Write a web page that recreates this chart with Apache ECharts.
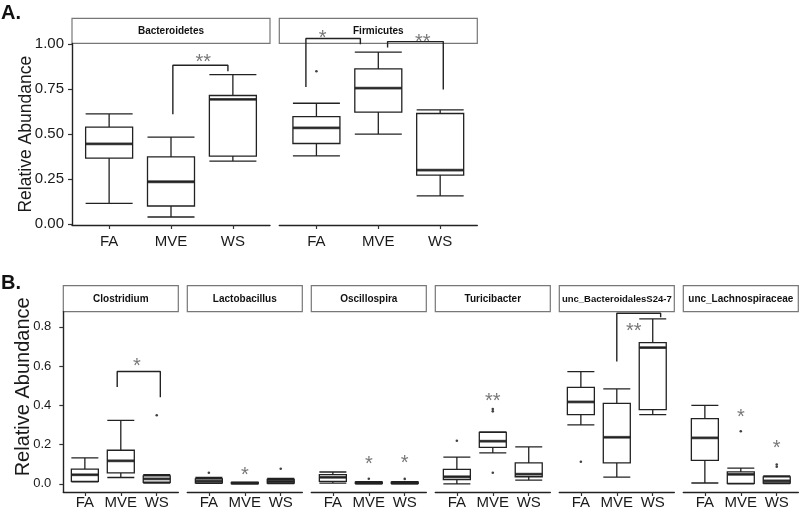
<!DOCTYPE html>
<html><head><meta charset="utf-8">
<script src="https://cdn.jsdelivr.net/npm/echarts@6/dist/echarts.min.js"></script>
<style>html,body{margin:0;padding:0;background:#fff}#c{width:800px;height:513px}</style>
</head><body><div id="c"></div>
<script>
// ---------- DATA ----------
const groups = ['FA', 'MVE', 'WS'];
const yTicksA = [0, 0.25, 0.5, 0.75, 1.0];
const yTicksB = [0, 0.2, 0.4, 0.6, 0.8];

// box stats: [min, Q1, median, Q3, max] for FA, MVE, WS
const taxaA = ['Bacteroidetes', 'Firmicutes'];
const boxBacteroidetes = [[0.115, 0.367, 0.446, 0.539, 0.613], [0.039, 0.100, 0.235, 0.374, 0.483], [0.350, 0.378, 0.693, 0.715, 0.831]];
const outBacteroidetes = [];
const boxFirmicutes = [[0.379, 0.448, 0.535, 0.598, 0.672], [0.500, 0.622, 0.756, 0.863, 0.956], [0.157, 0.272, 0.300, 0.615, 0.635]];
const outFirmicutes = [[1, 0.85]];

const taxaB = ['Clostridium', 'Lactobacillus', 'Oscillospira', 'Turicibacter', 'unc_BacteroidalesS24-7', 'unc_Lachnospiraceae'];
const boxClostridium = [[0.010, 0.012, 0.046, 0.075, 0.132], [0.032, 0.056, 0.117, 0.171, 0.323], [0.003, 0.008, 0.025, 0.040, 0.046]];
const outClostridium = [[3, 0.349]];
const boxLactobacillus = [[0.002, 0.005, 0.014, 0.025, 0.032], [0.000, 0.001, 0.003, 0.007, 0.009], [0.001, 0.004, 0.012, 0.022, 0.028]];
const outLactobacillus = [[1, 0.056], [3, 0.077]];
const boxOscillospira = [[0.003, 0.012, 0.033, 0.047, 0.060], [0.000, 0.002, 0.004, 0.008, 0.011], [0.000, 0.002, 0.004, 0.008, 0.011]];
const outOscillospira = [[2, 0.026], [3, 0.025]];
const boxTuricibacter = [[0.000, 0.022, 0.036, 0.073, 0.136], [0.158, 0.186, 0.217, 0.262, 0.265], [0.019, 0.036, 0.049, 0.107, 0.188]];
const outTuricibacter = [[1, 0.219], [2, 0.381], [2, 0.369], [2, 0.056]];
const boxUncBacteroidales = [[0.300, 0.352, 0.417, 0.491, 0.571], [0.034, 0.107, 0.237, 0.410, 0.484], [0.352, 0.378, 0.694, 0.719, 0.840]];
const outUncBacteroidales = [[1, 0.112]];
const boxUncLachno = [[0.004, 0.119, 0.234, 0.332, 0.400], [0.000, 0.002, 0.048, 0.061, 0.080], [0.001, 0.004, 0.015, 0.035, 0.040]];
const outUncLachno = [[2, 0.268], [3, 0.098], [3, 0.087]];

// significance brackets (x in group units, y in abundance) and star labels
const bracketsBacteroidetes = [[[2.03, 0.611], [2.03, 0.883], [2.92, 0.883], [2.92, 0.85]]];
const starsBacteroidetes = [[2.52, 0.933, '**']];
const bracketsFirmicutes = [[[0.83, 0.763], [0.83, 1.032], [1.71, 1.032], [1.71, 1.0]], [[2.15, 0.982], [2.15, 1.015], [3.05, 1.015], [3.05, 0.748]]];
const starsFirmicutes = [[1.1, 1.067, '*'], [2.72, 1.046, '**']];
const bracketsClostridium = [[[1.9, 0.493], [1.9, 0.572], [3.1, 0.572], [3.1, 0.441]]];
const starsClostridium = [[2.45, 0.628, '*']];
const starsLactobacillus = [[2, 0.073, '*']];
const starsOscillospira = [[2, 0.127, '*'], [3, 0.135, '*']];
const starsTuricibacter = [[2, 0.45, '**']];
const bracketsUncBacteroidales = [[[2.0, 0.623], [2.0, 0.869], [3.22, 0.869], [3.22, 0.848]]];
const starsUncBacteroidales = [[2.47, 0.809, '**']];
const starsUncLachno = [[2, 0.369, '*'], [3, 0.209, '*']];

// ---------- LAYOUT ----------
const FONT = 'Liberation Sans, Arial, sans-serif';
const panels = [
  { row: 'A', name: taxaA[0], boxes: boxBacteroidetes, outs: outBacteroidetes, brackets: bracketsBacteroidetes, stars: starsBacteroidetes, left: 72, width: 198 },
  { row: 'A', name: taxaA[1], boxes: boxFirmicutes, outs: outFirmicutes, brackets: bracketsFirmicutes, stars: starsFirmicutes, left: 279.3, width: 198 },
  { row: 'B', name: taxaB[0], boxes: boxClostridium, outs: outClostridium, brackets: bracketsClostridium, stars: starsClostridium },
  { row: 'B', name: taxaB[1], boxes: boxLactobacillus, outs: outLactobacillus, brackets: [], stars: starsLactobacillus },
  { row: 'B', name: taxaB[2], boxes: boxOscillospira, outs: outOscillospira, brackets: [], stars: starsOscillospira },
  { row: 'B', name: taxaB[3], boxes: boxTuricibacter, outs: outTuricibacter, brackets: [], stars: starsTuricibacter },
  { row: 'B', name: taxaB[4], boxes: boxUncBacteroidales, outs: outUncBacteroidales, brackets: bracketsUncBacteroidales, stars: starsUncBacteroidales },
  { row: 'B', name: taxaB[5], boxes: boxUncLachno, outs: outUncLachno, brackets: [], stars: starsUncLachno }
];
let bi = 0;
panels.forEach(p => { if (p.row === 'B') { p.left = 63.3 + 124 * bi; p.width = 115; bi++; } });

const rowCfg = {
  A: { top: 43.4, height: 181.6, min: -0.0056, max: 1.005, ticks: yTicksA, dec: 2, stripY: 18.3, stripH: 25.1, boxW: 47, nameGap: 36.5, nameSize: 17.5, namePad: [0, 0, 0, 0], lblMargin: 8, xMargin: 9, yLblSize: 15 },
  B: { top: 311.7, height: 180.3, min: -0.0418, max: 0.8768, ticks: yTicksB, dec: 1, stripY: 285.7, stripH: 26, boxW: 27, nameGap: 29.5, nameSize: 20, namePad: [0, 0, 0, 30], lblMargin: 12, xMargin: 3, yLblSize: 13 }
};

const grid = [], xAxis = [], yAxis = [], series = [], graphic = [];
panels.forEach((p, i) => {
  const r = rowCfg[p.row];
  const first = (i === 0 || i === 2);
  grid.push({ left: p.left, top: r.top, width: p.width, height: r.height });
  xAxis.push({
    gridIndex: i, type: 'value', min: 0.4, max: 3.6,
    axisLine: { show: true, onZero: false, lineStyle: { color: '#222', width: 1.4 } },
    axisTick: { show: true, customValues: [1, 2, 3], length: 4, lineStyle: { color: '#333', width: 1.2 } },
    axisLabel: { customValues: [1, 2, 3], formatter: v => groups[Math.round(v) - 1], fontSize: 15, color: '#1a1a1a', fontFamily: FONT, margin: r.xMargin },
    splitLine: { show: false }
  });
  yAxis.push({
    gridIndex: i, type: 'value', min: r.min, max: r.max,
    axisLine: { show: first, onZero: false, lineStyle: { color: '#222', width: 1.4 } },
    axisTick: { show: first, customValues: r.ticks, length: 4, lineStyle: { color: '#333', width: 1.2 } },
    axisLabel: { show: first, customValues: r.ticks, formatter: v => v.toFixed(r.dec), fontSize: r.yLblSize, color: '#1a1a1a', fontFamily: FONT, margin: r.lblMargin },
    splitLine: { show: false },
    name: first ? 'Relative Abundance' : '', nameLocation: 'middle', nameGap: r.nameGap, nameMoveOverlap: false,
    nameTextStyle: { fontSize: r.nameSize, color: '#1a1a1a', fontFamily: FONT, padding: r.namePad }
  });
  series.push({
    type: 'boxplot', xAxisIndex: i, yAxisIndex: i, z: 2,
    boxWidth: [r.boxW, r.boxW],
    itemStyle: { color: '#fff', borderColor: '#222', borderWidth: 1.3 },
    data: p.boxes.map((b, k) => [k + 1].concat(b))
  });
  series.push({
    type: 'scatter', xAxisIndex: i, yAxisIndex: i, z: 3, symbol: 'rect',
    symbolSize: [r.boxW, 2.8], itemStyle: { color: '#222' }, silent: true,
    data: p.boxes.map((b, k) => [k + 1, b[2]])
  });
  series.push({
    type: 'scatter', xAxisIndex: i, yAxisIndex: i, z: 3, symbolSize: 2.6,
    itemStyle: { color: '#111' }, data: p.outs
  });
  p.brackets.forEach(br => series.push({
    type: 'line', xAxisIndex: i, yAxisIndex: i, z: 5, clip: false, symbol: 'none',
    lineStyle: { color: '#222', width: 1.4 }, data: br
  }));
  series.push({
    type: 'scatter', xAxisIndex: i, yAxisIndex: i, z: 6, clip: false, symbolSize: 1,
    itemStyle: { color: 'rgba(0,0,0,0)' },
    label: { show: true, position: 'inside', formatter: q => q.data[2], fontSize: 20, color: '#555', fontFamily: FONT, offset: [0, 6] },
    data: p.stars
  });
  // facet strip
  const fs = p.name.length > 20 ? 9.5 : 10;
  graphic.push({
    type: 'group', z: 1, children: [
      { type: 'rect', shape: { x: p.left, y: r.stripY, width: p.width, height: r.stripH }, style: { fill: '#fff', stroke: '#777', lineWidth: 1.2 } },
      { type: 'text', style: { text: p.name, x: p.left + p.width / 2, y: r.stripY + r.stripH / 2 + 0.5, align: 'center', verticalAlign: 'middle', fontSize: fs, fontWeight: 'bold', fontFamily: FONT, fill: '#111' } }
    ]
  });
});
graphic.push({ type: 'text', style: { text: 'A.', x: 1, y: 3, fontSize: 20, fontWeight: 'bold', fontFamily: FONT, fill: '#111' } });
graphic.push({ type: 'text', style: { text: 'B.', x: 1, y: 273, fontSize: 20, fontWeight: 'bold', fontFamily: FONT, fill: '#111' } });

const chart = echarts.init(document.getElementById('c'), null, { renderer: 'canvas' });
chart.setOption({ animation: false, backgroundColor: '#fff', grid, xAxis, yAxis, series, graphic });
</script></body></html>
